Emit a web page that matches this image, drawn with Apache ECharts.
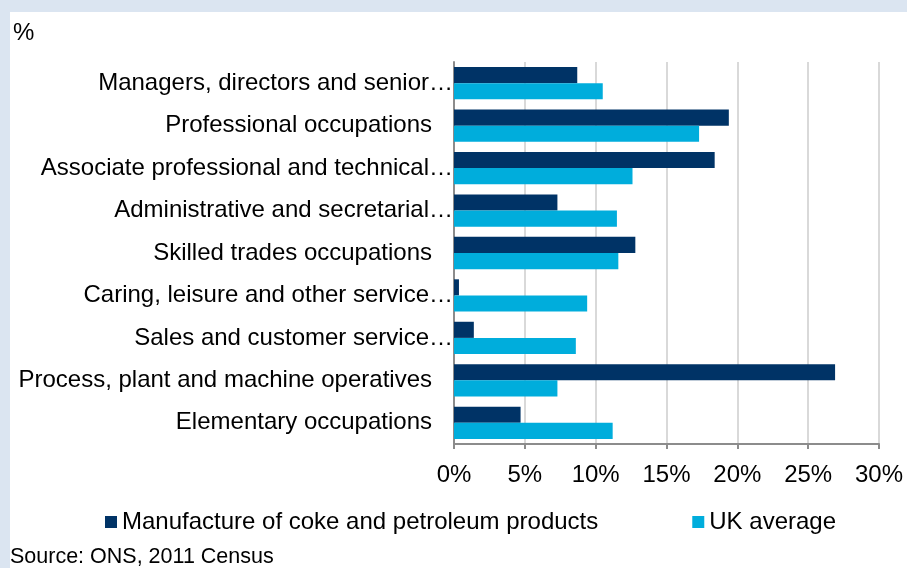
<!DOCTYPE html>
<html>
<head>
<meta charset="utf-8">
<script src="https://cdn.jsdelivr.net/npm/echarts@6/dist/echarts.min.js"></script>
<style>
html,body{margin:0;padding:0;background:#dbe5f1;}
#chart{width:907px;height:568px;}
</style>
</head>
<body>
<div id="chart"></div>
<script>
const categories = [
  "Managers, directors and senior…",
  "Professional occupations",
  "Associate professional and technical…",
  "Administrative and secretarial…",
  "Skilled trades occupations",
  "Caring, leisure and other service…",
  "Sales and customer service…",
  "Process, plant and machine operatives",
  "Elementary occupations"
];
const cokePetroleum = [8.7, 19.4, 18.4, 7.3, 12.8, 0.35, 1.4, 26.9, 4.7];
const ukAverage = [10.5, 17.3, 12.6, 11.5, 11.6, 9.4, 8.6, 7.3, 11.2];
const seriesNames = ["Manufacture of coke and petroleum products", "UK average"];
const xTicks = { min: 0, max: 30, interval: 5 };

const FONT = "'Liberation Sans', Arial, sans-serif";
const FS = 24;
const chart = echarts.init(document.getElementById('chart'));
chart.setOption({
  backgroundColor: '#dbe5f1',
  animation: false,
  textStyle: { fontFamily: FONT },
  graphic: [
    { type: 'rect', z: -10, shape: { x: 10, y: 12, width: 897, height: 556 }, style: { fill: '#ffffff' } },
    { type: 'text', left: 13, top: 21, style: { text: '%', fontSize: FS, fontFamily: FONT, fill: '#000' } },
    { type: 'text', left: 10, top: 546, style: { text: 'Source: ONS, 2011 Census', fontSize: 21.5, fontFamily: FONT, fill: '#000' } }
  ],
  grid: { left: 454, right: 28, top: 62, bottom: 124, containLabel: false },
  legend: {
    left: 105, top: 510, padding: 0, itemWidth: 12, itemHeight: 12, itemGap: 94,
    icon: 'rect',
    textStyle: { fontSize: FS, color: '#000', fontFamily: FONT },
    data: seriesNames
  },
  xAxis: {
    type: 'value', min: xTicks.min, max: xTicks.max, interval: xTicks.interval,
    axisLine: { show: true, lineStyle: { color: '#8c8c8c', width: 2 } },
    axisTick: { show: true, length: 5, lineStyle: { color: '#8c8c8c', width: 2 } },
    splitLine: { show: true, lineStyle: { color: '#d9d9d9', width: 2 } },
    axisLabel: { formatter: '{value}%', fontSize: FS, color: '#000', margin: 19, fontFamily: FONT }
  },
  yAxis: {
    type: 'category', inverse: true, data: categories,
    axisLine: { show: true, lineStyle: { color: '#8c8c8c', width: 2 } },
    axisTick: { show: false },
    axisLabel: {
      margin: 1, fontSize: FS, color: '#000', fontFamily: FONT,
      formatter: function (v) { return v.endsWith('…') ? '{t|' + v + '}' : '{n|' + v + '}'; },
      rich: {
        t: { fontSize: FS, color: '#000', fontFamily: FONT },
        n: { fontSize: FS, color: '#000', fontFamily: FONT, padding: [0, 21, 0, 0] }
      }
    }
  },
  series: [
    { name: seriesNames[0], type: 'bar', data: cokePetroleum, barGap: '0%', barCategoryGap: '24%', itemStyle: { color: '#003366' } },
    { name: seriesNames[1], type: 'bar', data: ukAverage, barGap: '0%', barCategoryGap: '24%', itemStyle: { color: '#00addc' } }
  ]
});
</script>
</body>
</html>
